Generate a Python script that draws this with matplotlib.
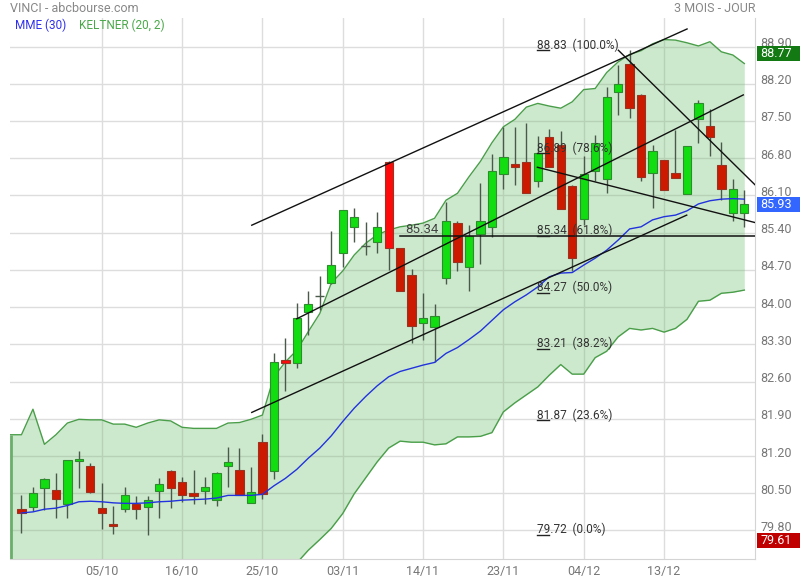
import matplotlib
matplotlib.use('Agg')
import matplotlib.pyplot as plt
import matplotlib.transforms as mtransforms
from matplotlib.patches import Rectangle
import numpy as np

# --- style ---
plt.rcParams.update({
    "font.family": ['Roboto', 'DejaVu Sans'],
    "font.size": 9,
})

# --- daily candles (index 0 = first session shown) ---
opens = [80.20, 80.25, 80.59, 80.56, 80.30, 81.11, 81.01, 80.22, 79.92, 80.20,
         80.30, 80.24, 80.54, 80.91, 80.71, 80.50, 80.55, 80.37, 81.01, 80.93,
         80.31, 81.46, 80.91, 83.01, 82.94, 83.90, 84.20, 84.45, 85.01, 85.50,
         85.15, 85.23, 86.72, 85.11, 84.60, 83.71, 83.62, 84.54, 85.58, 84.76,
         85.37, 85.51, 86.50, 86.69, 86.72, 86.38, 87.19, 87.05, 86.28, 85.65,
         86.56, 86.40, 88.05, 88.57, 87.99, 86.53, 86.77, 86.52, 86.13, 87.53,
         87.40, 86.67, 85.77, 85.77]
highs = [80.47, 80.61, 80.79, 80.88, 81.13, 81.29, 81.07, 80.69, 80.26, 80.61,
         80.45, 80.45, 80.78, 80.93, 80.80, 80.94, 80.80, 80.90, 81.37, 81.35,
         81.00, 81.61, 83.13, 83.41, 84.07, 84.30, 84.58, 85.44, 85.83, 85.86,
         85.60, 85.79, 86.75, 85.11, 84.71, 84.27, 84.06, 85.98, 85.61, 85.54,
         86.33, 86.88, 87.39, 87.38, 87.47, 87.22, 87.35, 87.32, 86.30, 86.84,
         87.24, 88.13, 88.55, 88.83, 88.00, 87.05, 86.77, 87.33, 87.03, 87.89,
         87.72, 87.11, 86.40, 86.21]
lows = [79.76, 80.17, 80.19, 80.04, 80.04, 80.60, 80.51, 79.83, 79.74, 80.15,
        80.02, 79.72, 80.04, 80.23, 80.34, 80.30, 80.30, 80.26, 80.62, 80.47,
        80.31, 80.40, 80.77, 82.43, 82.86, 83.48, 83.95, 84.43, 84.76, 85.23,
        84.98, 85.01, 84.70, 84.31, 83.33, 83.38, 82.97, 84.43, 84.67, 84.31,
        84.81, 85.31, 86.23, 86.30, 86.14, 86.26, 86.64, 85.84, 84.68, 85.54,
        86.38, 86.15, 87.61, 87.56, 86.38, 85.86, 86.21, 86.43, 86.13, 87.08,
        86.84, 86.01, 85.62, 85.51]
closes = [80.13, 80.50, 80.76, 80.40, 81.12, 81.14, 80.53, 80.12, 79.89, 80.46,
          80.20, 80.37, 80.67, 80.59, 80.47, 80.44, 80.61, 80.89, 81.08, 80.47,
          80.52, 80.49, 82.96, 82.94, 83.79, 84.05, 84.20, 84.79, 85.82, 85.69,
          85.15, 85.50, 85.12, 84.31, 83.65, 83.79, 83.83, 85.61, 84.85, 85.34,
          85.62, 86.56, 86.83, 86.64, 86.14, 86.90, 86.64, 85.84, 84.92, 86.50,
          87.08, 87.96, 88.19, 87.74, 86.44, 86.93, 86.21, 86.43, 87.03, 87.84,
          87.19, 86.23, 86.23, 85.93]
bright_red = [23, 32]

# --- indicators ---
mme30 = [80.13, 80.15, 80.20, 80.22, 80.27, 80.34, 80.35, 80.34, 80.32, 80.31,
         80.31, 80.32, 80.34, 80.35, 80.37, 80.38, 80.39, 80.41, 80.46, 80.46,
         80.46, 80.48, 80.64, 80.78, 80.95, 81.16, 81.35, 81.58, 81.85, 82.10,
         82.32, 82.52, 82.69, 82.79, 82.85, 82.91, 82.96, 83.13, 83.24, 83.39,
         83.55, 83.75, 83.95, 84.10, 84.23, 84.38, 84.57, 84.64, 84.65, 84.79,
         84.92, 85.07, 85.26, 85.47, 85.51, 85.64, 85.70, 85.73, 85.81, 85.94,
         86.00, 86.03, 86.04, 86.03]
kelt_up = [81.60, 82.08, 81.42, 81.60, 81.82, 81.89, 81.88, 81.88, 81.80, 81.80,
           81.74, 81.82, 81.88, 81.86, 81.74, 81.72, 81.72, 81.72, 81.82, 81.83,
           81.89, 81.97, 82.69, 82.97, 83.19, 83.54, 83.88, 84.45, 84.68, 84.98,
           85.20, 85.36, 85.45, 85.51, 85.54, 85.58, 85.67, 86.01, 86.14, 86.45,
           86.74, 87.09, 87.39, 87.53, 87.76, 87.83, 87.78, 87.74, 87.86, 88.09,
           88.11, 88.41, 88.61, 88.75, 88.82, 88.95, 89.03, 89.02, 88.97, 88.91,
           88.99, 88.80, 88.74, 88.58]
kelt_low = [78.62, 78.22, 78.98, 78.80, 78.72, 78.70, 78.72, 78.70, 78.78, 78.80,
            78.86, 78.84, 78.84, 78.86, 78.96, 79.00, 79.02, 79.04, 79.00, 79.02,
            79.00, 78.98, 78.70, 78.95, 79.19, 79.43, 79.63, 79.84, 80.12, 80.49,
            80.79, 81.09, 81.35, 81.48, 81.46, 81.46, 81.41, 81.43, 81.56, 81.56,
            81.57, 81.64, 82.03, 82.20, 82.35, 82.50, 82.72, 82.92, 82.74, 82.74,
            83.05, 83.17, 83.44, 83.60, 83.57, 83.60, 83.53, 83.60, 83.77, 84.11,
            84.13, 84.26, 84.28, 84.32]

# --- drawings ---
fib_levels = [88.83, 86.89, 85.34, 84.27, 83.21, 81.87, 79.72]
fib_pcts = [100.0, 78.6, 61.8, 50.0, 38.2, 23.6, 0.0]
fib_x = 44.93
trend_lines = [
    ((20.07, 85.54), (58.01, 89.23)),
    ((23.99, 83.78), (62.91, 87.99)),
    ((20.07, 82.02), (57.98, 85.73)),
    ((52.02, 88.83), (63.93, 86.30)),
    ((44.96, 86.63), (63.93, 85.59)),
]
hline_level = 85.34
hline_start = 32.99

# --- axes ---
date_pos = [7, 14, 21, 28, 35, 42, 49, 56]
date_labels = ['05/10', '16/10', '25/10', '03/11', '14/11', '23/11', '04/12', '13/12']
y_ticks = [79.80, 80.50, 81.20, 81.90, 82.60, 83.30, 84.00, 84.70,
           85.40, 86.10, 86.80, 87.50, 88.20, 88.90]
price_tags = [88.77, 85.93, 79.61]
tag_colors = ['#137a13', '#3366ff', '#c00000']

fig = plt.figure(figsize=(8, 5.8), dpi=100)
ax = fig.add_axes([10 / 800, 21 / 580, 745 / 800, 541 / 580])
ax.set_xlim(-1.0, 63.93)
ax.set_ylim(79.264, 89.436)

# grille
for v in y_ticks:
    ax.axhline(v, color='#dddddd', lw=1, zorder=0)
for p in date_pos:
    ax.axvline(p, color='#dddddd', lw=1, zorder=0)

for s in ['top', 'left']:
    ax.spines[s].set_visible(False)
for s in ['right', 'bottom']:
    ax.spines[s].set_color('#d4d4d4')

ax.set_xticks(date_pos, date_labels)
ax.set_yticks([])
ax.tick_params(axis='x', length=0, colors='#777777', labelsize=9, pad=4)

# bande de Keltner
xb = [-1] + list(range(len(kelt_up)))
up = [kelt_up[0]] + kelt_up
lo = [kelt_low[0]] + kelt_low
ax.fill_between(xb, lo, up, color='#5cb85c', alpha=0.3, lw=0, zorder=1)
ax.plot(xb, up, color='#4a9e4a', lw=1, zorder=2)
ax.plot(xb, lo, color='#4a9e4a', lw=1, zorder=2)
ax.vlines(-0.95, lo[0], up[0], color='#6aae6a', lw=2, zorder=2)

# chandeliers
for i, (o, h, l, c) in enumerate(zip(opens, highs, lows, closes)):
    ax.vlines(i, l, h, color='#4a5a4a', lw=1, zorder=3)
    if c > o:
        ax.bar(i, c - o, bottom=o, width=0.72, color='#11dd11',
               edgecolor='#2e8b2e', lw=0.8, zorder=4)
    elif c < o:
        fc = '#ff0a0a' if i in bright_red else '#cc1a00'
        ax.bar(i, o - c, bottom=c, width=0.72, color=fc,
               edgecolor='#993322', lw=0.8, zorder=4)
    else:
        ax.hlines(o, i - 0.4, i + 0.4, color='#4a5a4a', lw=1, zorder=4)

# MME 30
ax.plot(range(len(mme30)), mme30, color='#2233dd', lw=1, zorder=5)

# lignes de tendance
for (x0, y0), (x1, y1) in trend_lines:
    ax.plot([x0, x1], [y0, y1], color='#111111', lw=1, zorder=6)
ax.plot([hline_start, 63.93], [hline_level, hline_level], color='#111111', lw=1.1, zorder=6)
ax.annotate(f'{hline_level:.2f}', (hline_start + 0.45, hline_level), xytext=(0, 2),
            textcoords='offset points', va='baseline', ha='left', fontsize=9.5,
            color='#444444', zorder=7)

# Fibonacci
for lvl, pct in zip(fib_levels, fib_pcts):
    ax.plot([fib_x, fib_x + 1.05], [lvl, lvl], color='#222222', lw=1, zorder=6)
    ax.annotate(f'{lvl:.2f}  ({pct:.1f}%)', (fib_x, lvl), xytext=(0, 1.2),
                textcoords='offset points', va='baseline', ha='left',
                fontsize=8.5, color='#333333', zorder=7)

# axe des prix a droite
trans = mtransforms.blended_transform_factory(ax.transAxes, ax.transData)
for v in y_ticks:
    ax.text(1.0 + 5 / 745, v + 3 / 53.19, f'{v:.2f}', transform=trans, va='center',
            ha='left', color='#777777', fontsize=9, clip_on=False)
for v, col in zip(price_tags, tag_colors):
    ax.add_patch(Rectangle((1.0 + 2 / 745, v - 7.5 / 53.19), 0.06, 15 / 53.19,
                           transform=trans, facecolor=col, edgecolor='none',
                           clip_on=False, zorder=8))
    ax.text(1.0 + 5 / 745, v, f'{v:.2f}', transform=trans, va='center', ha='left',
            color='white', fontsize=9, clip_on=False, zorder=9)

# titres
fig.text(10 / 800, 1 - 9 / 580, 'VINCI - abcbourse.com', va='center', ha='left',
         color='#888888', fontsize=9)
fig.text(755 / 800, 1 - 9 / 580, '3 MOIS - JOUR', va='center', ha='right',
         color='#888888', fontsize=9)
fig.text(15 / 800, 1 - 25 / 580, 'MME (30)', va='center', ha='left',
         color='#3030ee', fontsize=8.5)
fig.text(79 / 800, 1 - 25 / 580, 'KELTNER (20, 2)', va='center', ha='left',
         color='#4aa84a', fontsize=8.5)

fig.savefig('out.png', dpi=100)
